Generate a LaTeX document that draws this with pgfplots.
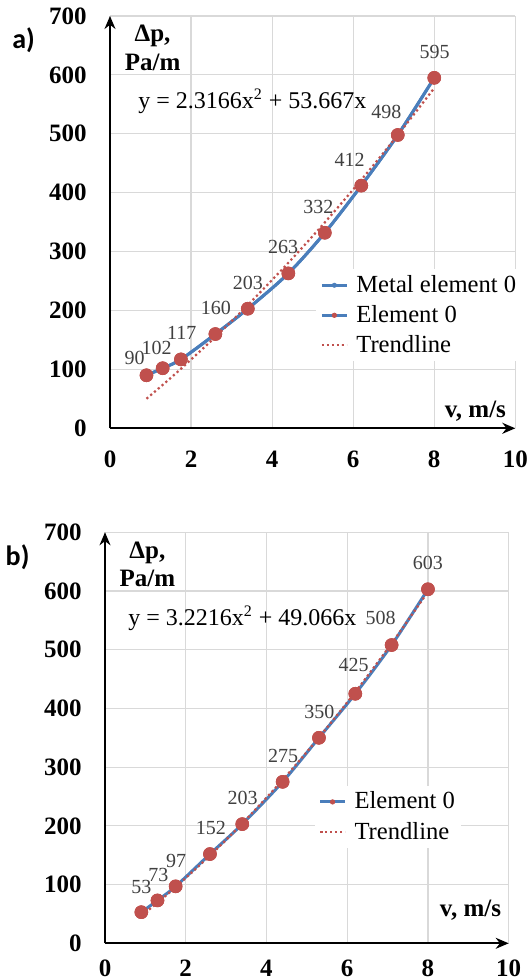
\documentclass[border=0pt]{standalone}
\usepackage{fontspec}
\setmainfont{Liberation Serif}
\newfontfamily\carlito{Carlito}
\usepackage{pgfplots}
\pgfplotsset{compat=1.18}
\usetikzlibrary{arrows.meta}
\definecolor{lineblue}{HTML}{4A7EBB}
\definecolor{mred}{HTML}{C0504D}
\definecolor{gridgray}{HTML}{D9D9D9}
\definecolor{lblgray}{HTML}{404040}

\tikzset{
  dlbl/.style={font=\fontsize{10}{12}\selectfont, text=lblgray, inner sep=0pt},
  axlbl/.style={font=\fontsize{12.5}{15}\selectfont\bfseries, inner sep=0pt},
  eqlbl/.style={font=\fontsize{12}{14}\selectfont, inner sep=0pt, anchor=base west},
}

\pgfplotsset{
  panel/.style={
    scale only axis, clip=false,
    xmin=0,xmax=10,ymin=0,ymax=700,
    xtick={0,2,...,10}, ytick={0,100,...,700},
    axis lines=left,
    axis line style={line width=1pt,-{Stealth[length=6.5pt,width=5.5pt]}},
    grid=major, major grid style={gridgray,line width=0.6pt},
    major tick length=0pt, tick style={draw=none},
    /pgf/number format/assume math mode=true,
    tick label style={font=\fontsize{12.5}{15}\selectfont\bfseries, inner sep=0pt},
    yticklabel style={anchor=east, xshift=-11.5pt},
    legend cell align=left,
    legend style={draw=none, fill=white, inner sep=2pt, font=\fontsize{12.3}{14}\selectfont,
      row sep=3pt, column sep=3pt, nodes={inner sep=1pt}, anchor=north west},
    legend image code/.code={\draw[mark repeat=2,mark phase=2,##1,mark size=1.1pt] plot coordinates {(0pt,0pt) (6.25pt,0pt) (12.5pt,0pt)};},
  },
  dataline/.style={lineblue, line width=1.5pt, smooth},
  bigmark/.style={only marks, mark=*, mark size=3.2pt, mark options={fill=mred, draw=mred, line width=0.4pt}},
  trend/.style={mred, line width=1.1pt, dash pattern=on 1.1pt off 1.4pt, smooth},
}

\pgfplotstableread{
x y
0.9 90
1.3 102
1.75 117
2.6 160
3.4 203
4.4 263
5.3 332
6.2 412
7.1 498
8.0 595
}\dataA

\pgfplotstableread{
x y
0.9 50.18
1.3 73.68
1.75 101.01
2.6 155.19
3.4 209.25
4.4 280.98
5.3 349.51
6.2 421.79
7.1 497.82
8.0 577.60
}\trendA

\pgfplotstableread{
x y
0.9 53
1.3 73
1.75 97
2.6 152
3.4 203
4.4 275
5.3 350
6.2 425
7.1 508
8.0 603
}\dataB

\pgfplotstableread{
x y
0.9 46.77
1.3 69.23
1.75 95.73
2.6 149.35
3.4 204.07
4.4 278.26
5.3 350.55
6.2 428.05
7.1 510.77
8.0 598.71
}\trendB

\begin{document}
\begin{tikzpicture}
\useasboundingbox (0,0) rectangle (264pt,490pt);

% ---------- panel a ----------
\begin{axis}[panel,
  at={(55pt,275.85pt)}, anchor=south west,
  width=202.65pt, height=206.15pt,
  xticklabel style={anchor=north, yshift=-11pt},
  legend style={at={(axis cs:5.23,260.6)}, xshift=-3pt, yshift=3pt},
]
\addplot[dataline, mark=*, mark size=1.4pt, mark options={fill=lineblue,draw=lineblue,line width=0.3pt}] table {\dataA};
\addlegendentry{Metal element 0}
\addplot[dataline, mark=*, mark size=3.2pt, mark options={fill=mred,draw=mred,line width=0.4pt}] table {\dataA};
\addlegendentry{Element 0}
\addplot[trend] table {\trendA};
\addlegendentry{Trendline}
\addplot[bigmark, forget plot] table {\dataA};

\node[dlbl] at (axis cs:0.61,118.8) {90};
\node[dlbl] at (axis cs:1.15,135.8) {102};
\node[dlbl] at (axis cs:1.77,161.3) {117};
\node[dlbl] at (axis cs:2.61,203.7) {160};
\node[dlbl] at (axis cs:3.40,247.2) {203};
\node[dlbl] at (axis cs:4.27,307.3) {263};
\node[dlbl] at (axis cs:5.14,375.2) {332};
\node[dlbl] at (axis cs:5.91,455.5) {412};
\node[dlbl] at (axis cs:6.82,536.5) {498};
\node[dlbl] at (axis cs:8.01,639.4) {595};

\node[eqlbl] at (axis cs:0.69,543) {y = 2.3166x\textsuperscript{2} + 53.667x};
\node[axlbl, anchor=base] at (axis cs:1.05,656) {Δp,};
\node[axlbl, anchor=base] at (axis cs:1.05,607) {Pa/m};
\node[axlbl, anchor=base east] at (axis cs:9.78,18) {v, m/s};
\end{axis}

% ---------- panel b ----------
\begin{axis}[panel,
  at={(52.5pt,18.35pt)}, anchor=south west,
  width=201.85pt, height=205.5pt,
  xticklabel style={anchor=north, yshift=-8pt},
  legend style={at={(axis cs:5.33,258.6)}, xshift=-3pt, yshift=3pt},
]
\addplot[dataline, mark=*, mark size=3.2pt, mark options={fill=mred,draw=mred,line width=0.4pt}] table {\dataB};
\addlegendentry{Element 0}
\addplot[trend] table {\trendB};
\addlegendentry{Trendline}
\addplot[bigmark, forget plot] table {\dataB};

\node[dlbl] at (axis cs:0.90,96.4) {53};
\node[dlbl] at (axis cs:1.32,116.4) {73};
\node[dlbl] at (axis cs:1.76,140.7) {97};
\node[dlbl] at (axis cs:2.62,195.9) {152};
\node[dlbl] at (axis cs:3.41,247) {203};
\node[dlbl] at (axis cs:4.41,319) {275};
\node[dlbl] at (axis cs:5.31,394.5) {350};
\node[dlbl] at (axis cs:6.16,474) {425};
\node[dlbl] at (axis cs:6.83,553.6) {508};
\node[dlbl] at (axis cs:8.0,648.4) {603};

\node[eqlbl] at (axis cs:0.57,542) {y = 3.2216x\textsuperscript{2} + 49.066x};
\node[axlbl, anchor=base] at (axis cs:1.05,656) {Δp,};
\node[axlbl, anchor=base] at (axis cs:1.05,607) {Pa/m};
\node[axlbl, anchor=base east] at (axis cs:9.82,45) {v, m/s};
\end{axis}

\node[font=\carlito\bfseries\fontsize{14}{16}\selectfont, inner sep=0pt] at (11.8pt,470pt) {a)};
\node[font=\carlito\bfseries\fontsize{14}{16}\selectfont, inner sep=0pt] at (8.8pt,211.5pt) {b)};
\end{tikzpicture}
\end{document}
